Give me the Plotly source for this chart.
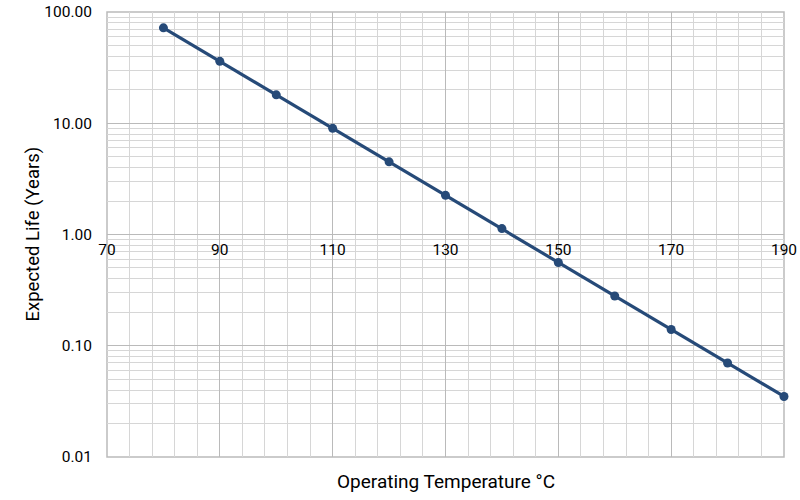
import plotly.graph_objects as go

temps = [80, 90, 100, 110, 120, 130, 140, 150, 160, 170, 180, 190]
life_years = [72, 36, 18, 9.0, 4.5, 2.25, 1.13, 0.56, 0.28, 0.14, 0.07, 0.035]

x_ticks = [70, 90, 110, 130, 150, 170, 190]
y_ticks = [0.01, 0.1, 1, 10, 100]
y_tick_text = ["0.01", "0.10", "1.00", "10.00", "100.00"]

FONT = "Roboto"
LINE_COLOR = "#264a78"

fig = go.Figure()
fig.add_trace(go.Scatter(
    x=temps, y=life_years, mode="lines+markers",
    line=dict(color=LINE_COLOR, width=3.2),
    marker=dict(color=LINE_COLOR, size=9),
    showlegend=False, cliponaxis=False,
))

minor_y = [m * 10 ** e for e in range(-2, 2) for m in range(2, 10)]

fig.update_layout(
    width=800, height=500,
    margin=dict(l=107, r=16, t=12, b=43),
    paper_bgcolor="white", plot_bgcolor="white",
    font=dict(family=FONT, size=15, color="#000000"),
    xaxis=dict(
        range=[70, 190], tickvals=x_ticks, automargin=False,
        showgrid=True, gridcolor="#bababa", gridwidth=1,
        minor=dict(dtick=4, tick0=70, showgrid=True, gridcolor="#d6d6d6", gridwidth=1),
        anchor="free", position=0.5,
        showline=False, zeroline=False,
        ticks="", ticklabelstandoff=4,
        tickfont=dict(family=FONT, size=15.5, color="#000000"),
    ),
    yaxis=dict(
        type="log", range=[-2, 2], automargin=False,
        tickvals=y_ticks, ticktext=y_tick_text,
        showgrid=True, gridcolor="#bababa", gridwidth=1,
        minor=dict(tickvals=minor_y, showgrid=True, gridcolor="#d6d6d6", gridwidth=1),
        showline=False, zeroline=False,
        ticks="", ticklabelstandoff=14,
        tickfont=dict(family=FONT, size=15.5, color="#000000"),
    ),
    shapes=[dict(type="rect", xref="paper", yref="paper", x0=0, x1=1, y0=0, y1=1,
                 line=dict(color="#bababa", width=1.5), layer="below")],
    annotations=[
        dict(text="Operating Temperature °C", xref="paper", yref="paper",
             x=0.5, y=0, yshift=-11, yanchor="top", showarrow=False,
             font=dict(family=FONT, size=19, color="#000000")),
        dict(text="Expected Life (Years)", xref="paper", yref="paper",
             x=0, xshift=-75, xanchor="center", y=0.5, textangle=-90, showarrow=False,
             font=dict(family=FONT, size=18.5, color="#000000")),
    ],
)

fig.write_html("out.html")
